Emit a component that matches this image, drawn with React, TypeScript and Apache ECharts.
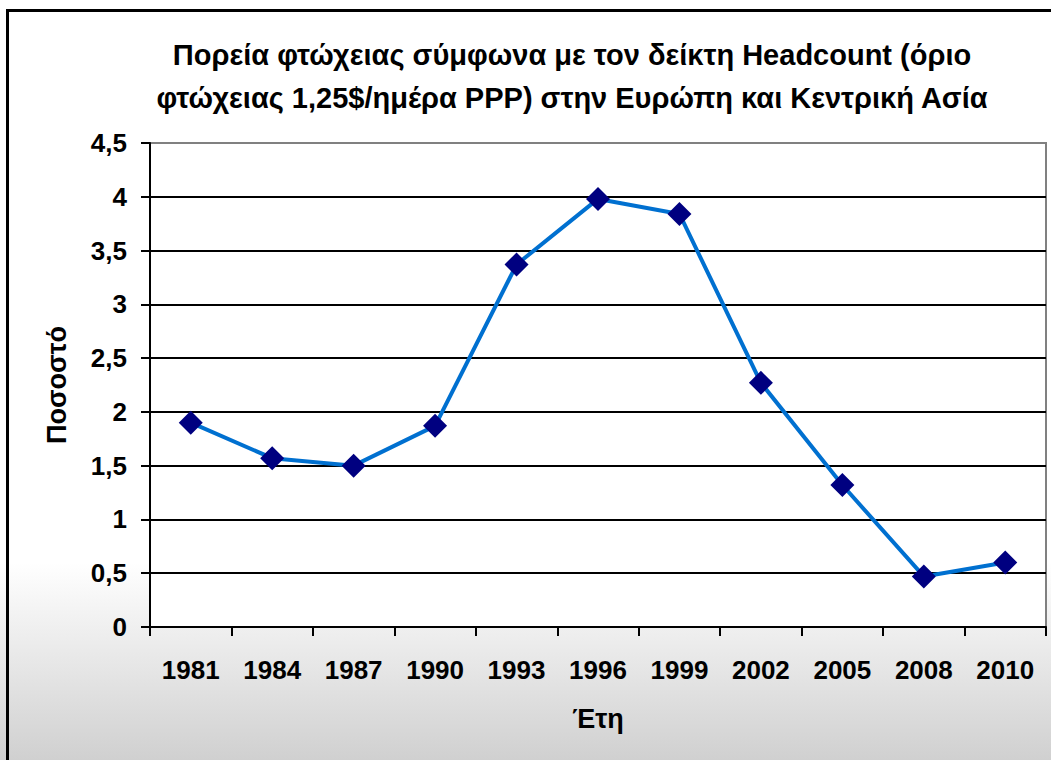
import React, { useEffect, useRef } from "react";
import * as echarts from "echarts";

const years = ["1981", "1984", "1987", "1990", "1993", "1996", "1999", "2002", "2005", "2008", "2010"];
const headcount = [1.9, 1.57, 1.5, 1.87, 3.37, 3.98, 3.84, 2.27, 1.32, 0.47, 0.6];
const titleText = "Πορεία φτώχειας σύμφωνα με τον δείκτη Headcount (όριο\nφτώχειας 1,25$/ημέρα PPP) στην Ευρώπη και Κεντρική Ασία";
const xName = "Έτη";
const yName = "Ποσοστό";

const FONT = "'Liberation Sans', Arial, sans-serif";

export default function App() {
  const ref = useRef<HTMLDivElement>(null);
  useEffect(() => {
    document.body.style.margin = "0";
    const chart = echarts.init(ref.current!, null, { renderer: "svg" });
    chart.setOption({
      animation: false,
      backgroundColor: new echarts.graphic.LinearGradient(0, 0, 0, 1, [
        { offset: 0, color: "#ffffff" },
        { offset: 0.74, color: "#ffffff" },
        { offset: 1, color: "#d0d0d0" },
      ]),
      title: {
        text: titleText,
        left: 567,
        textAlign: "center",
        top: 28,
        textStyle: { fontFamily: FONT, fontWeight: "bold", fontSize: 29, lineHeight: 43, color: "#000" },
      },
      graphic: {
        elements: [
          {
            type: "rect",
            z: 100,
            left: 6,
            top: 9,
            shape: { width: 1045, height: 3 },
            style: { fill: "#000" },
            silent: true,
          },
          {
            type: "rect",
            z: 100,
            left: 6,
            top: 9,
            shape: { width: 3, height: 751 },
            style: { fill: "#000" },
            silent: true,
          },
        ],
      },
      grid: {
        left: 150,
        right: 5,
        top: 143,
        bottom: 133,
        show: true,
        backgroundColor: "#ffffff",
        borderColor: "#808080",
        borderWidth: 2,
      },
      xAxis: {
        type: "category",
        data: years,
        boundaryGap: true,
        name: xName,
        nameLocation: "middle",
        nameGap: 78,
        nameTextStyle: { fontFamily: FONT, fontWeight: "bold", fontSize: 27, color: "#000" },
        axisLine: { show: true, lineStyle: { color: "#000", width: 2 } },
        axisTick: { show: true, inside: false, length: 9, alignWithLabel: false, lineStyle: { color: "#000", width: 2 } },
        axisLabel: { margin: 30, fontFamily: FONT, fontWeight: "bold", fontSize: 26, color: "#000" },
        splitLine: { show: false },
      },
      yAxis: {
        type: "value",
        min: 0,
        max: 4.5,
        interval: 0.5,
        name: yName,
        nameLocation: "middle",
        nameRotate: 90,
        nameGap: 80,
        nameTextStyle: { fontFamily: FONT, fontWeight: "bold", fontSize: 27, color: "#000" },
        axisLine: { show: true, lineStyle: { color: "#000", width: 2 } },
        axisTick: { show: true, inside: false, length: 9, lineStyle: { color: "#000", width: 2 } },
        axisLabel: {
          margin: 23,
          fontFamily: FONT,
          fontWeight: "bold",
          fontSize: 26,
          color: "#000",
          formatter: (v: number) => String(v).replace(".", ","),
        },
        splitLine: { show: true, showMaxLine: false, lineStyle: { color: "#000", width: 2 } },
      },
      series: [
        {
          type: "line",
          data: headcount,
          symbol: "diamond",
          symbolSize: 24,
          lineStyle: { color: "#0070d0", width: 4 },
          itemStyle: { color: "#000080" },
          z: 3,
        },
      ],
    });
    return () => chart.dispose();
  }, []);
  return <div ref={ref} style={{ position: "absolute", left: 0, top: 0, width: 1051, height: 760 }} />;
}
